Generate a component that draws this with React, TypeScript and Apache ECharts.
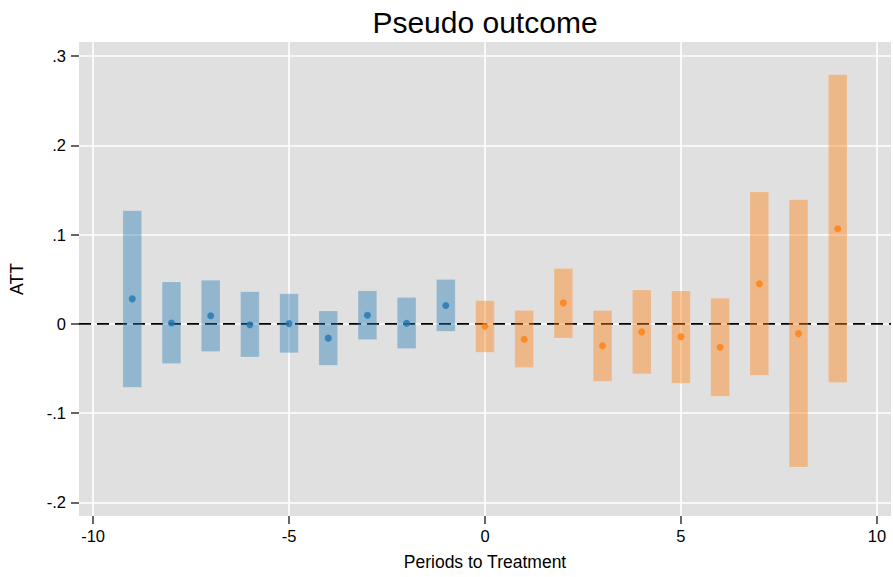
import React, { useEffect, useRef } from "react";
import * as echarts from "echarts";

const prePeriods = [-9, -8, -7, -6, -5, -4, -3, -2, -1];
const preATT = [0.028, 0.001, 0.009, -0.001, 0.0003, -0.016, 0.0097, 0.0007, 0.0205];
const preLow = [-0.071, -0.0444, -0.031, -0.037, -0.0324, -0.0463, -0.0176, -0.0276, -0.0082];
const preHigh = [0.1267, 0.047, 0.0488, 0.036, 0.0336, 0.0145, 0.037, 0.0294, 0.0496];

const postPeriods = [0, 1, 2, 3, 4, 5, 6, 7, 8, 9];
const postATT = [-0.0027, -0.0172, 0.0235, -0.0246, -0.009, -0.0145, -0.0262, 0.045, -0.0109, 0.1066];
const postLow = [-0.0317, -0.0489, -0.0157, -0.0642, -0.0559, -0.0664, -0.081, -0.0575, -0.1604, -0.0657];
const postHigh = [0.026, 0.0149, 0.0619, 0.0149, 0.038, 0.0369, 0.0287, 0.1476, 0.139, 0.2789];

const xTicks = [-10, -5, 0, 5, 10];
const yTicks = [-0.2, -0.1, 0, 0.1, 0.2, 0.3];
const yTickLabels = ["-.2", "-.1", "0", ".1", ".2", ".3"];

const X_MIN = -10.36;
const X_MAX = 10.36;
const Y_MIN = -0.2152;
const Y_MAX = 0.3157;
const HALF_W = 0.238;

const FONT = "'Liberation Sans', Arial, Helvetica, sans-serif";

function ciSeries(periods: number[], low: number[], high: number[], fill: string) {
  return {
    type: "custom",
    z: 3,
    silent: true,
    data: periods.map((p, i) => [p, low[i], high[i]]),
    encode: { x: 0, y: [1, 2] },
    renderItem: (_params: any, api: any) => {
      const x = api.value(0);
      const lo = api.value(1);
      const hi = api.value(2);
      const p1 = api.coord([x - HALF_W, hi]);
      const p2 = api.coord([x + HALF_W, lo]);
      return {
        type: "rect",
        shape: { x: p1[0], y: p1[1], width: p2[0] - p1[0], height: p2[1] - p1[1] },
        style: { fill, stroke: "rgba(255,255,255,0.12)", lineWidth: 1 },
      };
    },
  };
}

export default function App() {
  const ref = useRef<HTMLDivElement>(null);
  useEffect(() => {
    document.body.style.margin = "0";
    if (!ref.current) return;
    const chart = echarts.init(ref.current, undefined, { renderer: "svg" });
    chart.setOption({
      animation: false,
      backgroundColor: "#ffffff",
      title: {
        text: "Pseudo outcome",
        left: 480,
        textAlign: "center",
        top: 2,
        textStyle: { fontFamily: FONT, fontSize: 30, fontWeight: "normal", color: "#000" },
      },
      grid: {
        left: 75,
        right: 2,
        top: 42,
        bottom: 61,
        show: true,
        backgroundColor: "#e0e0e0",
        borderWidth: 0,
      },
      xAxis: {
        type: "value",
        min: X_MIN,
        max: X_MAX,
        name: "Periods to Treatment",
        nameLocation: "middle",
        nameGap: 37,
        nameTextStyle: { fontFamily: FONT, fontSize: 17.5, color: "#000" },
        axisLine: { show: false, onZero: false },
        axisTick: {
          show: true,
          customValues: xTicks,
          length: 8,
          lineStyle: { color: "#333", width: 1.5 },
        },
        axisLabel: {
          customValues: xTicks,
          margin: 11,
          fontFamily: FONT,
          fontSize: 16.5,
          color: "#000",
          formatter: (v: number) => String(v),
        },
        splitLine: { show: true, lineStyle: { color: "#ffffff", width: 1.6 } },
      },
      yAxis: {
        type: "value",
        min: Y_MIN,
        max: Y_MAX,
        name: "ATT",
        nameLocation: "middle",
        nameGap: 53,
        nameTextStyle: { fontFamily: FONT, fontSize: 17.5, color: "#000" },
        axisLine: { show: false, onZero: false },
        axisTick: {
          show: true,
          customValues: yTicks,
          length: 8,
          lineStyle: { color: "#333", width: 1.5 },
        },
        axisLabel: {
          customValues: yTicks,
          margin: 13,
          fontFamily: FONT,
          fontSize: 16.5,
          color: "#000",
          formatter: (v: number) => {
            const i = yTicks.findIndex((t) => Math.abs(t - v) < 1e-9);
            return i >= 0 ? yTickLabels[i] : "";
          },
        },
        splitLine: { show: true, lineStyle: { color: "#ffffff", width: 1.6 } },
      },
      series: [
        {
          type: "line",
          z: 2,
          silent: true,
          symbol: "none",
          data: [
            [X_MIN, 0],
            [X_MAX, 0],
          ],
          lineStyle: { color: "#000", width: 1.6, type: [12, 6] },
        },
        ciSeries(prePeriods, preLow, preHigh, "rgba(31,119,180,0.4)"),
        ciSeries(postPeriods, postLow, postHigh, "rgba(255,127,14,0.42)"),
        {
          type: "scatter",
          z: 4,
          silent: true,
          symbol: "circle",
          symbolSize: 7,
          itemStyle: { color: "#1f77b4" },
          data: prePeriods.map((p, i) => [p, preATT[i]]),
        },
        {
          type: "scatter",
          z: 4,
          silent: true,
          symbol: "circle",
          symbolSize: 7,
          itemStyle: { color: "#ff7f0e" },
          data: postPeriods.map((p, i) => [p, postATT[i]]),
        },
      ],
    });
    return () => chart.dispose();
  }, []);
  return <div ref={ref} style={{ width: 893, height: 577 }} />;
}
